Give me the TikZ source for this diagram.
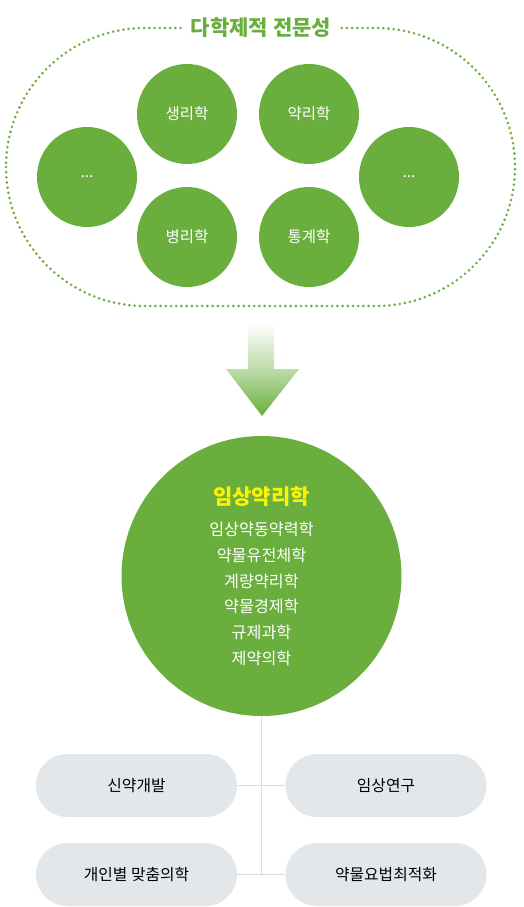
\documentclass[tikz,border=0pt]{standalone}
\usepackage{fontspec}
\usetikzlibrary{shapes.misc}
\setmainfont{Noto Sans CJK KR}
\definecolor{leaf}{HTML}{6AAF3E}
\definecolor{pillgray}{HTML}{E4E7EA}
\definecolor{linegray}{HTML}{DDDDDD}
\definecolor{hiyellow}{HTML}{FFF200}
\begin{document}
\begin{tikzpicture}[x=1pt,y=-1pt,
  small/.style={circle,fill=leaf,minimum size=100pt,inner sep=0pt,text=white,font=\fontsize{15.5}{17}\selectfont},
  pill/.style={rounded rectangle,fill=pillgray,minimum width=201pt,minimum height=63pt,inner sep=0pt,text=black,font=\fontsize{15.8}{18}\selectfont},
  conn/.style={draw=linegray,line width=1pt}]
\useasboundingbox (0,0) rectangle (523,907);
% dotted frame
\draw[leaf,line width=2.9pt,line cap=round,dash pattern=on 0pt off 5.2pt,rounded corners=139pt] (6,28) rectangle (515,306);
\node[fill=white,inner xsep=9pt,inner ysep=4pt,text=leaf,font=\fontsize{21}{23}\selectfont\bfseries] (title) at (261,28) {다학제적 전문성};
% small circles
\node[small] (c1) at (187,114) {생리학};
\node[small] (c2) at (309,114) {약리학};
\node[small] (c3) at (87,177) {...};
\node[small] (c4) at (409,177) {...};
\node[small] (c5) at (187,237) {병리학};
\node[small] (c6) at (309,237) {통계학};
% arrow
\shade[top color=white,bottom color=leaf,middle color=leaf!45] (248,323) -- (274,323) -- (274,369) -- (299,369) -- (262,416) -- (226,369) -- (248,369) -- cycle;
% big circle
\node[circle,fill=leaf,minimum size=280pt,inner sep=0pt] (big) at (261.5,576) {};
\node[text=hiyellow,font=\fontsize{21}{24}\selectfont\bfseries] (t0) at (261.5,497) {임상약리학};
\begin{scope}[every node/.style={text=white,font=\fontsize{16.2}{18}\selectfont}]
\node (t1) at (261.5,529) {임상약동약력학};
\node (t2) at (261.5,555) {약물유전체학};
\node (t3) at (261.5,581) {계량약리학};
\node (t4) at (261.5,606) {약물경제학};
\node (t5) at (261.5,632) {규제과학};
\node (t6) at (261.5,658) {제약의학};
\end{scope}
% connectors
\draw[conn] (big.south) -- (big.south |- 0,874.5);
% pills
\node[pill] (p1) at (136.5,785.5) {신약개발};
\node[pill] (p2) at (386,785.5) {임상연구};
\node[pill] (p3) at (136.5,874.5) {개인별 맞춤의학};
\node[pill] (p4) at (386,874.5) {약물요법최적화};
\draw[conn] (p1.east) -- (p2.west);
\draw[conn] (p3.east) -- (p4.west);
\end{tikzpicture}
\end{document}
